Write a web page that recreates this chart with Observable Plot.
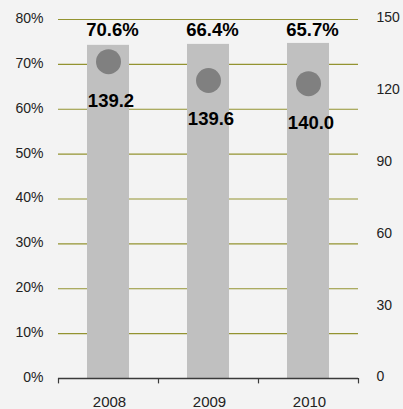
<!DOCTYPE html>
<html>
<head>
<meta charset="utf-8">
<script src="https://cdn.jsdelivr.net/npm/d3@7"></script>
<script src="https://cdn.jsdelivr.net/npm/@observablehq/plot@0.6"></script>
<style>
  html, body { margin: 0; padding: 0; background: #f3f3f3; }
  #chart svg { display: block; background: #f3f3f3; }
</style>
</head>
<body>
<div id="chart"></div>
<script>
const years = ["2008", "2009", "2010"];
const barValues = [139.2, 139.6, 140.0];
const pctValues = [0.706, 0.664, 0.657];
const leftTicks = [0, 0.1, 0.2, 0.3, 0.4, 0.5, 0.6, 0.7, 0.8];
const rightTicks = [0, 30, 60, 90, 120, 150];
const rightMax = 150;
const leftMax = 0.8;

const toLeft = v => v / rightMax * leftMax;
const data = years.map((y, i) => ({year: y, bar: barValues[i], pct: pctValues[i]}));
const font = "'Liberation Sans', Arial, sans-serif";

const chart = Plot.plot({
  width: 403,
  height: 409,
  marginTop: 19,
  marginBottom: 31,
  marginLeft: 58,
  marginRight: 45,
  style: {background: "#f3f3f3", fontFamily: font, overflow: "visible"},
  x: {domain: years, paddingInner: 0.58, paddingOuter: 0.29, axis: null, label: null},
  y: {domain: [0, leftMax], axis: null, label: null},
  marks: [
    Plot.ruleY(leftTicks.filter(t => t > 0), {stroke: "#939330", strokeWidth: 1.2}),
    Plot.barY(data, {x: "year", y: d => toLeft(d.bar), fill: "#c0c0c0"}),
    Plot.ruleY([0], {stroke: "#3a3a3a", strokeWidth: 1.5}),
    Plot.ruleX(years, {x: d => d, dx: -50, y1: 0, y2: -0.012, stroke: "#3a3a3a", strokeWidth: 1.2}),
    Plot.ruleX([years[years.length - 1]], {x: d => d, dx: 50, y1: 0, y2: -0.012, stroke: "#3a3a3a", strokeWidth: 1.2}),
    Plot.dot(data, {x: "year", y: "pct", r: 12.5, fill: "#808080"}),
    Plot.text(data, {x: "year", frameAnchor: "top", dy: 10.5, dx: 4, text: d => d3.format(".1f")(d.pct * 100) + "%", fontSize: 18.5, fontWeight: "bold", fill: "#000", lineAnchor: "middle"}),
    Plot.text(data, {x: "year", y: "pct", dy: 39, dx: 2.5, text: d => d3.format(".1f")(d.bar), fontSize: 18.5, fontWeight: "bold", fill: "#000", lineAnchor: "middle"}),
    Plot.axisY({anchor: "left", label: null, ticks: leftTicks, tickSize: 0, tickPadding: 15, tickFormat: d3.format(".0%"), fontSize: 14, fill: "#222", dy: -1}),
    Plot.axisY({anchor: "right", label: null, ticks: rightTicks.map(toLeft), tickSize: 0, tickPadding: 18, tickFormat: d => String(Math.round(d / leftMax * rightMax)), fontSize: 14, fill: "#222", dy: -1.5}),
    Plot.axisX({anchor: "bottom", label: null, tickSize: 0, tickPadding: 18, fontSize: 15, fill: "#222", dx: 1})
  ]
});
document.getElementById("chart").appendChild(chart);
</script>
</body>
</html>
